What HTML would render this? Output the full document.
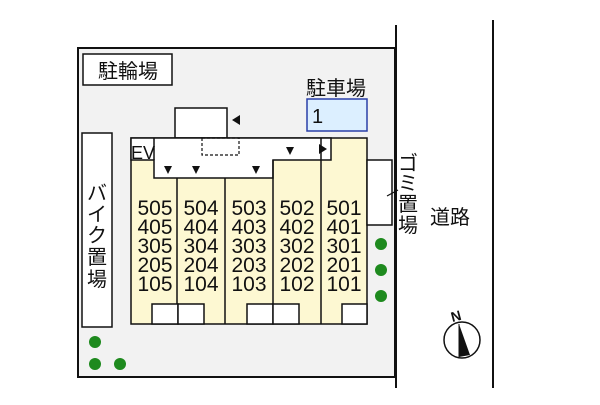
<!DOCTYPE html>
<html><head><meta charset="utf-8"><style>
body{margin:0;background:#fff;}
svg text{font-family:"Liberation Sans","Noto Sans CJK JP",sans-serif;fill:#111;}
</style></head><body>
<svg width="600" height="400" xmlns="http://www.w3.org/2000/svg">
<rect width="600" height="400" fill="#fff"/>
<rect x="78" y="48" width="317" height="329" fill="#f2f2f2" stroke="#111" stroke-width="2"/>
<line x1="396" y1="25" x2="396" y2="388" stroke="#111" stroke-width="2"/>
<line x1="493" y1="20" x2="493" y2="388" stroke="#111" stroke-width="2"/>
<rect x="83" y="54" width="89" height="31" fill="#fff" stroke="#111" stroke-width="1.5"/>
<text x="128" y="78" font-size="20" text-anchor="middle">駐輪場</text>
<text x="336" y="95" font-size="20" text-anchor="middle">駐車場</text>
<rect x="307" y="99" width="60" height="32" fill="#dcefff" stroke="#2a3fa8" stroke-width="1.5"/>
<text x="312" y="123" font-size="20">1</text>
<rect x="175" y="108" width="52" height="30" fill="#fff" stroke="#111" stroke-width="1.5"/>
<polygon points="232,120 240,115 240,125" fill="#111"/>
<rect x="131" y="138" width="236" height="186" fill="#fdf8d2" stroke="#111" stroke-width="1.5"/>
<polygon points="131,138 331,138 331,160 273,160 273,178 154,178 154,160 131,160" fill="#fff" stroke="#111" stroke-width="1.5"/>
<line x1="154" y1="138" x2="154" y2="160" stroke="#111" stroke-width="1.5"/>
<text x="131" y="159" font-size="18">EV</text>
<rect x="202" y="138" width="37" height="17" fill="none" stroke="#111" stroke-width="1.2" stroke-dasharray="3,2"/>
<polygon points="164,166 172,166 168,174" fill="#111"/>
<polygon points="192,166 200,166 196,174" fill="#111"/>
<polygon points="252,166 260,166 256,174" fill="#111"/>
<polygon points="286,147 294,147 290,155" fill="#111"/>
<polygon points="319,144 327,149 319,154" fill="#111"/>
<line x1="177" y1="178" x2="177" y2="324" stroke="#111" stroke-width="1.5"/>
<line x1="225" y1="178" x2="225" y2="324" stroke="#111" stroke-width="1.5"/>
<line x1="273" y1="160" x2="273" y2="324" stroke="#111" stroke-width="1.5"/>
<line x1="321" y1="138" x2="321" y2="324" stroke="#111" stroke-width="1.5"/>
<g fill="#fff" stroke="#111" stroke-width="1.5">
<rect x="152" y="304" width="26" height="20"/>
<rect x="178" y="304" width="26" height="20"/>
<rect x="247" y="304" width="26" height="20"/>
<rect x="273" y="304" width="26" height="20"/>
<rect x="342" y="304" width="25" height="20"/>
</g>
<g font-size="21" text-anchor="middle">
<text x="155" y="215">505</text><text x="201" y="215">504</text><text x="249" y="215">503</text><text x="297" y="215">502</text><text x="344" y="215">501</text>
<text x="155" y="234">405</text><text x="201" y="234">404</text><text x="249" y="234">403</text><text x="297" y="234">402</text><text x="344" y="234">401</text>
<text x="155" y="253">305</text><text x="201" y="253">304</text><text x="249" y="253">303</text><text x="297" y="253">302</text><text x="344" y="253">301</text>
<text x="155" y="272">205</text><text x="201" y="272">204</text><text x="249" y="272">203</text><text x="297" y="272">202</text><text x="344" y="272">201</text>
<text x="155" y="291">105</text><text x="201" y="291">104</text><text x="249" y="291">103</text><text x="297" y="291">102</text><text x="344" y="291">101</text>
</g>
<rect x="367" y="160" width="25" height="65" fill="#fff" stroke="#111" stroke-width="1.5"/>
<line x1="387" y1="196" x2="398" y2="190" stroke="#111" stroke-width="1.2"/>
<g font-size="20" text-anchor="middle">
<text x="408" y="170">ゴ</text><text x="408" y="190">ミ</text><text x="408" y="211">置</text><text x="408" y="232">場</text>
</g>
<text x="430" y="224" font-size="20">道路</text>
<rect x="82" y="133" width="30" height="194" fill="#fff" stroke="#111" stroke-width="1.5"/>
<g font-size="20" text-anchor="middle">
<text x="97" y="200">バ</text><text x="97" y="221">イ</text><text x="97" y="242">ク</text><text x="97" y="264">置</text><text x="97" y="286">場</text>
</g>
<g fill="#1e8a1e">
<circle cx="381" cy="244" r="6"/><circle cx="381" cy="270" r="6"/><circle cx="381" cy="296" r="6"/>
<circle cx="95" cy="342" r="6"/><circle cx="95" cy="364" r="6"/><circle cx="120" cy="364" r="6"/>
</g>
<circle cx="462" cy="340" r="18" fill="#fff" stroke="#111" stroke-width="1.5"/>
<polygon points="459,324 470,355 459,357" fill="#111"/>
<line x1="459" y1="324" x2="459" y2="357" stroke="#111" stroke-width="1"/>
<text x="456" y="321" font-size="14" font-weight="bold" text-anchor="middle" transform="rotate(-15 456 316)">N</text>
</svg>
</body></html>
